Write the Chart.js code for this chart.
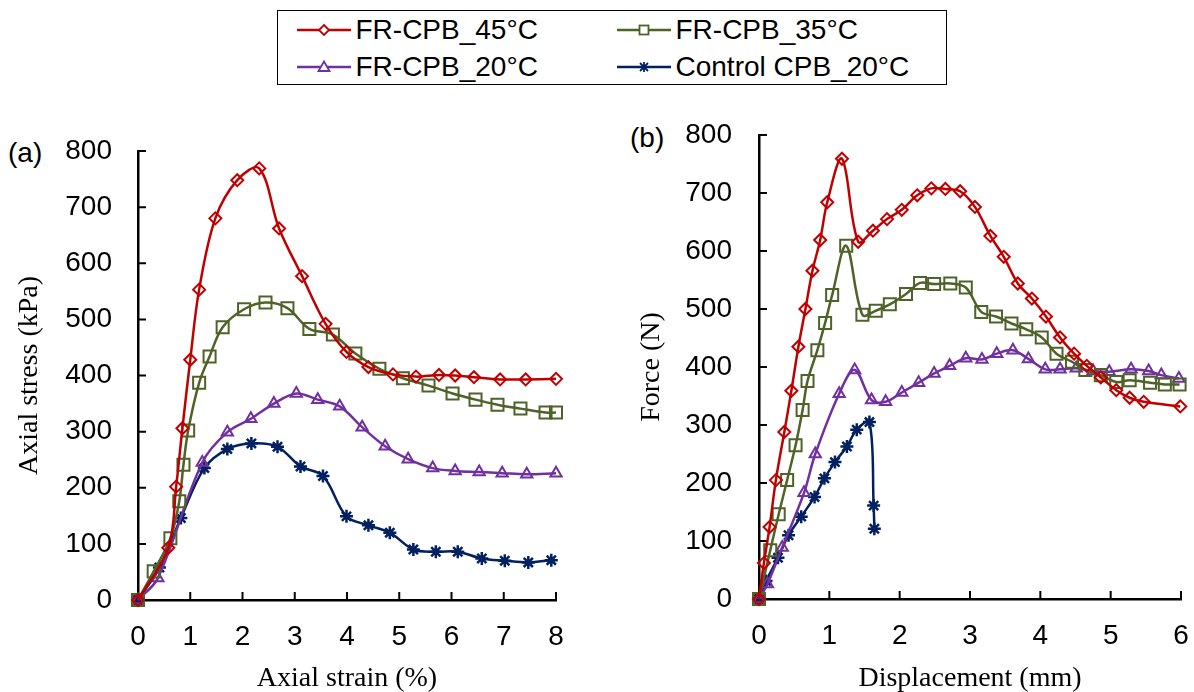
<!DOCTYPE html>
<html>
<head>
<meta charset="utf-8">
<script src="https://cdn.jsdelivr.net/npm/chart.js@4.4.1/dist/chart.umd.min.js"></script>
<style>
  body { margin: 0; background: #fff; width: 1194px; height: 692px; position: relative; overflow: hidden; font-family: "Liberation Sans", Arial, sans-serif; }
  .wrap { position: absolute; top: 0; height: 692px; }
  #wrapA { left: 0; width: 597px; }
  #wrapB { left: 597px; width: 620px; }
  .tag { position: absolute; font-size: 28px; line-height: 34px; color: #000; }
  #legend { position: absolute; left: 277px; top: 10px; width: 668px; height: 73px; border: 1.5px solid #000; }
  .item { position: absolute; height: 34px; display: flex; align-items: center; font-size: 28px; color: #000; white-space: nowrap; }
  .item svg { margin-right: 5px; }
</style>
</head>
<body>
<div id="legend"></div>
<div class="tag" style="left:8px;top:136px">(a)</div>
<div class="tag" style="left:630px;top:121px">(b)</div>
<div class="wrap" id="wrapA"><canvas id="chartA" width="597" height="692"></canvas></div>
<div class="wrap" id="wrapB"><canvas id="chartB" width="620" height="692"></canvas></div>
<script>
// panel (a): axial stress vs axial strain
const strainA45 = [0, 0.58, 0.73, 0.85, 1.0, 1.17, 1.48, 1.9, 2.32, 2.7, 3.14, 3.59, 3.99, 4.41, 4.88, 5.32, 5.76, 6.07, 6.43, 6.93, 7.42, 8.0];
const stressA45 = [0, 93, 202, 306, 428, 553, 680, 748, 769, 662, 577, 492, 442, 415, 402, 398, 401, 400, 397, 393, 393, 394];
const strainA35 = [0, 0.30, 0.62, 0.79, 0.87, 0.96, 1.17, 1.37, 1.62, 2.03, 2.44, 2.86, 3.28, 3.73, 4.16, 4.62, 5.07, 5.56, 6.02, 6.46, 6.88, 7.32, 7.80, 8.0];
const stressA35 = [0, 51, 110, 176, 241, 302, 387, 434, 486, 518, 530, 520, 483, 473, 439, 412, 395, 382, 368, 357, 348, 341, 334, 334];
const strainA20 = [0, 0.38, 1.23, 1.71, 2.16, 2.60, 3.03, 3.44, 3.86, 4.29, 4.73, 5.17, 5.64, 6.07, 6.53, 6.97, 7.44, 8.0];
const stressA20 = [0, 39, 245, 299, 323, 350, 368, 357, 345, 308, 274, 251, 235, 230, 228, 226, 224, 226];
const strainAC = [0, 0.41, 0.82, 1.27, 1.71, 2.17, 2.67, 3.11, 3.54, 3.99, 4.41, 4.82, 5.27, 5.70, 6.12, 6.58, 7.02, 7.47, 7.91];
const stressAC = [0, 58, 146, 235, 269, 279, 273, 238, 221, 149, 133, 120, 90, 86, 86, 74, 70, 67, 71];

// panel (b): force vs displacement
const dispB45 = [0, 0.07, 0.15, 0.24, 0.36, 0.46, 0.56, 0.66, 0.76, 0.87, 0.97, 1.18, 1.41, 1.62, 1.82, 2.03, 2.25, 2.45, 2.65, 2.86, 3.07, 3.29, 3.48, 3.68, 3.88, 4.08, 4.28, 4.48, 4.66, 4.86, 5.08, 5.27, 5.47, 5.99];
const forceB45 = [0, 62, 124, 205, 288, 359, 435, 500, 566, 619, 684, 759, 616, 635, 655, 671, 696, 708, 707, 703, 676, 626, 590, 544, 518, 487, 451, 423, 402, 382, 360, 347, 340, 332];
const dispB35 = [0, 0.16, 0.28, 0.40, 0.52, 0.62, 0.69, 0.83, 0.94, 1.04, 1.24, 1.47, 1.66, 1.86, 2.09, 2.29, 2.49, 2.72, 2.94, 3.16, 3.37, 3.59, 3.80, 4.02, 4.23, 4.45, 4.64, 4.86, 5.08, 5.27, 5.56, 5.77, 5.98];
const forceB35 = [0, 84, 146, 205, 265, 326, 376, 429, 476, 524, 609, 490, 497, 508, 526, 545, 543, 544, 537, 495, 487, 475, 465, 451, 423, 409, 395, 386, 374, 377, 373, 370, 370];
const dispB20 = [0, 0.12, 0.33, 0.64, 0.80, 1.14, 1.36, 1.60, 1.80, 2.03, 2.27, 2.49, 2.71, 2.94, 3.17, 3.38, 3.61, 3.83, 4.07, 4.28, 4.51, 4.75, 4.98, 5.29, 5.54, 5.72, 5.97];
const forceB20 = [0, 26, 89, 183, 250, 354, 395, 343, 340, 356, 373, 389, 402, 415, 413, 423, 429, 414, 396, 396, 398, 393, 392, 396, 393, 386, 380];
const dispBC = [0, 0.10, 0.27, 0.42, 0.60, 0.79, 0.93, 1.08, 1.25, 1.39, 1.57, 1.63, 1.64];
const forceBC = [0, 31, 71, 110, 142, 176, 208, 236, 263, 292, 305, 161, 121];

const seriesNames = ["FR-CPB_45°C", "FR-CPB_35°C", "FR-CPB_20°C", "Control CPB_20°C"];
const seriesColors = ["#C00000", "#4F6228", "#7030A0", "#002060"];
const seriesMarkers = ["rectRot", "rect", "triangle", "star"];
const markerSizes = [6, 8.5, 6.5, 6.5];

Chart.defaults.font.family = '"Liberation Sans", Arial, sans-serif';
Chart.defaults.font.size = 28;
Chart.defaults.color = "#000";

const pairs = (xs, ys) => xs.map((x, i) => ({ x, y: ys[i] }));

function dataset(index, xs, ys) {
  return {
    label: seriesNames[index],
    data: pairs(xs, ys),
    borderColor: seriesColors[index],
    borderWidth: 2.5,
    tension: 0.35,
    pointStyle: seriesMarkers[index],
    pointRadius: markerSizes[index],
    pointBorderWidth: index === 3 ? 2.5 : 2,
    pointBorderColor: seriesColors[index],
    pointBackgroundColor: "rgba(0,0,0,0)",
    clip: false
  };
}

// short tick marks pointing into the plot area
const inwardTicks = {
  id: "inwardTicks",
  beforeDatasetsDraw(chart) {
    const { ctx, chartArea } = chart;
    const xs = chart.scales.x, ys = chart.scales.y;
    ctx.save();
    ctx.strokeStyle = "#000";
    ctx.lineWidth = 2;
    ctx.beginPath();
    xs.ticks.forEach((t, i) => {
      const px = xs.getPixelForTick(i);
      ctx.moveTo(px, chartArea.bottom);
      ctx.lineTo(px, chartArea.bottom - 8);
    });
    ys.ticks.forEach((t, i) => {
      const py = ys.getPixelForTick(i);
      ctx.moveTo(chartArea.left, py);
      ctx.lineTo(chartArea.left + 8, py);
    });
    ctx.stroke();
    ctx.restore();
  }
};

function makeChart(id, datasets, xMax, xTitle, yTitle, box) {
  return new Chart(document.getElementById(id), {
    type: "line",
    data: { datasets },
    plugins: [inwardTicks],
    options: {
      responsive: false,
      animation: false,
      layout: { padding: { top: box.top, right: box.right, left: 0, bottom: 0 } },
      plugins: { legend: { display: false }, tooltip: { enabled: false } },
      scales: {
        x: {
          type: "linear", min: 0, max: xMax,
          afterFit: s => { s.height = box.xHeight; },
          ticks: { stepSize: 1, padding: 20, maxRotation: 0 },
          grid: { display: false, drawTicks: false },
          border: { display: true, color: "#000", width: 2.5 },
          title: { display: true, text: xTitle, padding: { top: 0, bottom: -3 }, font: { family: '"Liberation Serif", "Times New Roman", serif', size: 28 } }
        },
        y: {
          type: "linear", min: 0, max: 800,
          afterFit: s => { s.width = box.yWidth; },
          ticks: { stepSize: 100, padding: box.yPad },
          grid: { display: false, drawTicks: false },
          border: { display: true, color: "#000", width: 2.5 },
          title: { display: true, text: yTitle, padding: { top: box.yTitlePad, bottom: 0 }, font: { family: '"Liberation Serif", "Times New Roman", serif', size: 28 } }
        }
      }
    }
  });
}

makeChart("chartA", [
  dataset(0, strainA45, stressA45),
  dataset(1, strainA35, stressA35),
  dataset(2, strainA20, stressA20),
  dataset(3, strainAC, stressAC)
], 8, "Axial strain (%)", "Axial stress (kPa)",
  { top: 151, right: 41, xHeight: 92, yWidth: 138, yPad: 26, yTitlePad: 13 });

makeChart("chartB", [
  dataset(0, dispB45, forceB45),
  dataset(1, dispB35, forceB35),
  dataset(2, dispB20, forceB20),
  dataset(3, dispBC, forceBC)
], 6, "Displacement (mm)", "Force (N)",
  { top: 135, right: 36, xHeight: 93, yWidth: 162, yPad: 27, yTitlePad: 38 });

// legend shared by both panels
function markerSvg(i) {
  const c = seriesColors[i];
  let m = "";
  if (i === 0) m = `<polygon points="27,2 32,7 27,12 22,7" fill="#fff" stroke="${c}" stroke-width="1.8"/>`;
  if (i === 1) m = `<rect x="22.5" y="2.5" width="9" height="9" fill="#fff" stroke="${c}" stroke-width="1.8"/>`;
  if (i === 2) m = `<polygon points="27,1.5 32.5,11 21.5,11" fill="#fff" stroke="${c}" stroke-width="1.8"/>`;
  if (i === 3) m = `<path d="M23,3 L31,11 M31,3 L23,11 M27,2 L27,12" stroke="${c}" stroke-width="1.8"/>`;
  return `<svg width="54" height="14"><line x1="0" y1="7" x2="54" y2="7" stroke="${c}" stroke-width="2.5"/>${m}</svg>`;
}
const legendSpots = [[18.5, 1.5], [338.5, 1.5], [18.5, 38.5], [338.5, 38.5]];
const legend = document.getElementById("legend");
seriesNames.forEach((name, i) => {
  const div = document.createElement("div");
  div.className = "item";
  div.style.left = legendSpots[i][0] + "px";
  div.style.top = legendSpots[i][1] + "px";
  div.innerHTML = markerSvg(i) + `<span>${name}</span>`;
  legend.appendChild(div);
});
</script>
</body>
</html>
